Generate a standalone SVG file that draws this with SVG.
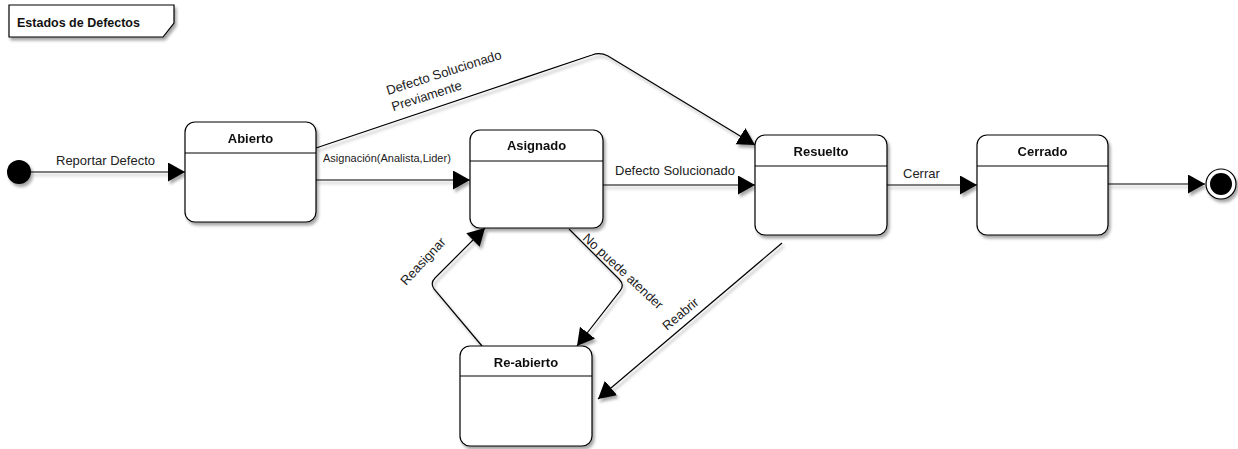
<svg xmlns="http://www.w3.org/2000/svg" width="1238" height="449" viewBox="0 0 1238 449">
  <defs>
    <filter id="shadow" x="-20%" y="-20%" width="140%" height="140%">
      <feDropShadow dx="2" dy="3" stdDeviation="1.6" flood-color="#000" flood-opacity="0.35"/>
    </filter>
    <marker id="arrow" markerUnits="userSpaceOnUse" markerWidth="18" markerHeight="20" refX="17" refY="9.5" orient="auto">
      <path d="M0,0 L17,9.5 L0,19 Z" fill="#000"/>
    </marker>
  </defs>
  <style>
    .state { fill: #fff; stroke: #000; stroke-width: 1.2; }
    .sep { stroke: #000; stroke-width: 1.2; }
    .title { font-family: "Liberation Sans", Arial, sans-serif; font-size: 13px; font-weight: bold; fill: #111; text-anchor: middle; }
    .edge { fill: none; stroke: #000; stroke-width: 1.2; marker-end: url(#arrow); }
    .label { font-family: "Liberation Sans", Arial, sans-serif; font-size: 13px; fill: #222; }
    .small { font-size: 11px; }
  </style>
  <rect width="1238" height="449" fill="#fff"/>

  <!-- diagram frame tag -->
  <g id="frame-title">
    <path d="M9,5 H174 V23 L163,37 H9 Z" fill="#fff" stroke="#000" stroke-width="1.2" filter="url(#shadow)"/>
    <text x="17" y="27" font-family="Liberation Sans, Arial, sans-serif" font-size="12.5" font-weight="bold" fill="#111">Estados de Defectos</text>
  </g>

  <!-- transitions -->
  <g id="connectors" filter="url(#shadow)">
    <path class="edge" d="M31,172 H185"/>
    <path class="edge" d="M316,180 H470"/>
    <path class="edge" d="M603,185 H755"/>
    <path class="edge" d="M887,185 H977"/>
    <path class="edge" d="M1108,184 H1205"/>
    <path class="edge" d="M316,148 L592,55 Q600,52 608,56 L755,145"/>
    <path class="edge" d="M569,229 L619,279 Q625,285 620,291 L577,346"/>
    <path class="edge" d="M482,346 L434,289 Q430,283 435,278 L485,228"/>
    <path class="edge" d="M782,243 L598,399"/>
  </g>

  <!-- transition labels -->
  <g id="labels">
    <text class="label" x="56" y="165">Reportar Defecto</text>
    <text class="label small" x="323" y="162">Asignación(Analista,Lider)</text>
    <text class="label" x="615" y="175">Defecto Solucionado</text>
    <text class="label" x="903" y="178">Cerrar</text>
    <g transform="translate(388,95) rotate(-17.7)">
      <text class="label" x="0" y="0">Defecto Solucionado</text>
      <text class="label" x="0" y="17">Previamente</text>
    </g>
    <text class="label" transform="translate(406,286) rotate(-47)">Reasignar</text>
    <text class="label" transform="translate(582,239) rotate(43)">No puede atender</text>
    <text class="label" transform="translate(667,331) rotate(-40)">Reabrir</text>
  </g>

  <!-- initial pseudo-state -->
  <g id="start">
    <circle cx="19" cy="172" r="12" fill="#000" filter="url(#shadow)"/>
  </g>

  <g id="abierto" filter="url(#shadow)">
    <rect class="state" x="185" y="122" width="131" height="100" rx="10"/>
    <line class="sep" x1="185" y1="153" x2="316" y2="153"/>
    <text class="title" x="250.5" y="143">Abierto</text>
  </g>

  <g id="asignado" filter="url(#shadow)">
    <rect class="state" x="470" y="130" width="133" height="98" rx="10"/>
    <line class="sep" x1="470" y1="161" x2="603" y2="161"/>
    <text class="title" x="536.5" y="150">Asignado</text>
  </g>

  <g id="resuelto" filter="url(#shadow)">
    <rect class="state" x="755" y="135" width="132" height="100" rx="10"/>
    <line class="sep" x1="755" y1="166" x2="887" y2="166"/>
    <text class="title" x="821" y="156">Resuelto</text>
  </g>

  <g id="cerrado" filter="url(#shadow)">
    <rect class="state" x="977" y="135" width="131" height="100" rx="10"/>
    <line class="sep" x1="977" y1="166" x2="1108" y2="166"/>
    <text class="title" x="1042.5" y="156">Cerrado</text>
  </g>

  <g id="reabierto" filter="url(#shadow)">
    <rect class="state" x="460" y="346" width="132" height="100" rx="10"/>
    <line class="sep" x1="460" y1="376" x2="592" y2="376"/>
    <text class="title" x="526" y="367">Re-abierto</text>
  </g>

  <!-- final pseudo-state -->
  <g id="end" filter="url(#shadow)">
    <circle cx="1221" cy="184" r="15" fill="#fff" stroke="#000" stroke-width="1.2"/>
    <circle cx="1221" cy="184" r="11" fill="#000"/>
  </g>
</svg>
